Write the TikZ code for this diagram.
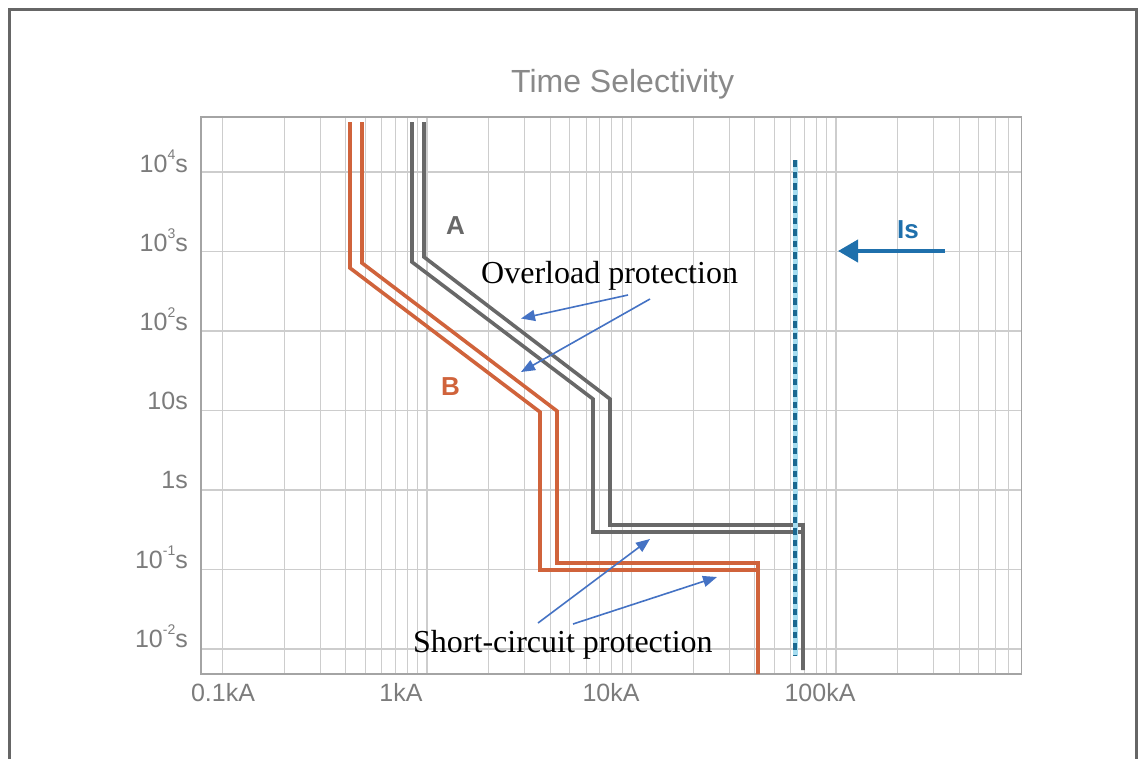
\documentclass[tikz,border=0pt]{standalone}
\usepackage{fontspec}
\setmainfont{Liberation Serif}
\newfontfamily\plotsans{Liberation Sans}
\usetikzlibrary{arrows.meta}

\definecolor{frameGray}{HTML}{666666}
\definecolor{gridGray}{HTML}{CDCDCD}
\definecolor{axisGray}{HTML}{A4A4A4}
\definecolor{labelGray}{HTML}{7C7C7C}
\definecolor{curveA}{HTML}{686868}
\definecolor{curveB}{HTML}{D0633B}
\definecolor{isBlue}{HTML}{1F70AC}
\definecolor{dashTeal}{HTML}{1A6890}
\definecolor{dashHalo}{HTML}{A6DDF0}
\definecolor{noteBlue}{HTML}{4472C4}

\begin{document}
\begin{tikzpicture}[x=1pt,y=-1pt,
  gridline/.style={draw=gridGray,line width=1.1pt},
  ticklab/.style={font=\plotsans\fontsize{25}{28}\selectfont,text=labelGray,inner sep=0pt},
  curveAline/.style={draw=curveA,line width=3.6pt},
  curveBline/.style={draw=curveB,line width=3.6pt},
  curvelab/.style={font=\plotsans\bfseries\fontsize{26}{30}\selectfont,inner sep=0pt,anchor=base west},
  note/.style={font=\fontsize{32}{36}\selectfont,inner sep=0pt,anchor=base west},
  notearrow/.style={draw=noteBlue,line width=1.6pt,-{Triangle[length=14pt,width=11pt]}},
]
\useasboundingbox (0,0) rectangle (1141,758);
\fill[white] (0,0) rectangle (1141,758);

% outer frame, open at the lower edge
\begin{scope}
  \clip (0,0) rectangle (1141,758);
  \draw[frameGray,line width=3pt] (9.5,9.5) rectangle (1136.5,790);
\end{scope}

% title
\node[font=\plotsans\fontsize{32}{36}\selectfont,text=labelGray!90,inner sep=0pt,anchor=base west]
  (title) at (511,92) {Time Selectivity};

% logarithmic grid: one decade of current = 204.5, one decade of time = 79.5
\foreach \k in {0,1,2} \foreach \m in {1,...,9} {
  \pgfmathsetmacro\gx{222.5+204.5*(\k+log10(\m))}
  \draw[gridline] (\gx,117) -- (\gx,674);
}
\foreach \m in {1,...,7} {
  \pgfmathsetmacro\gx{222.5+204.5*(3+log10(\m))}
  \draw[gridline] (\gx,117) -- (\gx,674);
}
\foreach \j in {0,...,6}
  \draw[gridline] (201,{172+79.5*\j}) -- (1021.5,{172+79.5*\j});
\draw[axisGray,line width=1.5pt] (201,117) rectangle (1021.5,674);

% time axis labels
\newcommand\tpow[1]{10\raisebox{0.5em}{\fontsize{14}{14}\selectfont #1}s}
\node[ticklab,anchor=base east] (t4)  at (188,172) {\tpow{4}};
\node[ticklab,anchor=base east] (t3)  at (188,251) {\tpow{3}};
\node[ticklab,anchor=base east] (t2)  at (188,330) {\tpow{2}};
\node[ticklab,anchor=base east] (t1)  at (188,409) {10s};
\node[ticklab,anchor=base east] (t0)  at (188,488) {1s};
\node[ticklab,anchor=base east] (tm1) at (188,568) {\tpow{-1}};
\node[ticklab,anchor=base east] (tm2) at (188,647) {\tpow{-2}};

% current axis labels
\node[ticklab,anchor=base] (i01)  at (223,701) {0.1kA};
\node[ticklab,anchor=base] (i1)   at (401,701) {1kA};
\node[ticklab,anchor=base] (i10)  at (611,701) {10kA};
\node[ticklab,anchor=base] (i100) at (820,701) {100kA};

% tripping curve B
\draw[curveBline] (350,122) -- (350,268) -- (540,412) -- (540,570) -- (758,570);
\draw[curveBline] (362,122) -- (362,263) -- (557,411) -- (557,563) -- (758,563) -- (758,674);

% tripping curve A
\draw[curveAline] (412,122) -- (412,262) -- (593,399) -- (593,532) -- (803,532);
\draw[curveAline] (424,122) -- (424,257) -- (610,399) -- (610,525) -- (803,525) -- (803,670);

% selectivity current, drawn over the curves
\draw[dashHalo,line width=5pt] (795,160) -- (795,656);
\draw[dashTeal,line width=3.4pt,dash pattern=on 6.5pt off 5pt] (795,160) -- (795,656);

\node[curvelab,text=curveA] (labA) at (446,234) {A};
\node[curvelab,text=curveB] (labB) at (441,395) {B};

% Is marker
\node[curvelab,text=isBlue] (labIs) at (897,238) {Is};
\coordinate (isTail) at (945,251);
\coordinate (isTip) at (838,251);
\draw[isBlue,line width=4pt,-{Triangle[length=20pt,width=22pt]}] (isTail) -- (isTip);

% annotations
\node[note] (ovl) at (481,283) {Overload protection};
\node[note] (shc) at (413,652) {Short-circuit protection};

\coordinate (ovlS1) at (628,295);
\coordinate (ovlS2) at (650,299);
\coordinate (ovlT1) at (521,318.5);
\coordinate (ovlT2) at (521,372);
\draw[notearrow] (ovlS1) -- (ovlT1);
\draw[notearrow] (ovlS2) -- (ovlT2);

\coordinate (shcS1) at (538,623);
\coordinate (shcS2) at (573,624);
\coordinate (shcT1) at (650,539);
\coordinate (shcT2) at (717,577);
\draw[notearrow] (shcS1) -- (shcT1);
\draw[notearrow] (shcS2) -- (shcT2);
\end{tikzpicture}
\end{document}
